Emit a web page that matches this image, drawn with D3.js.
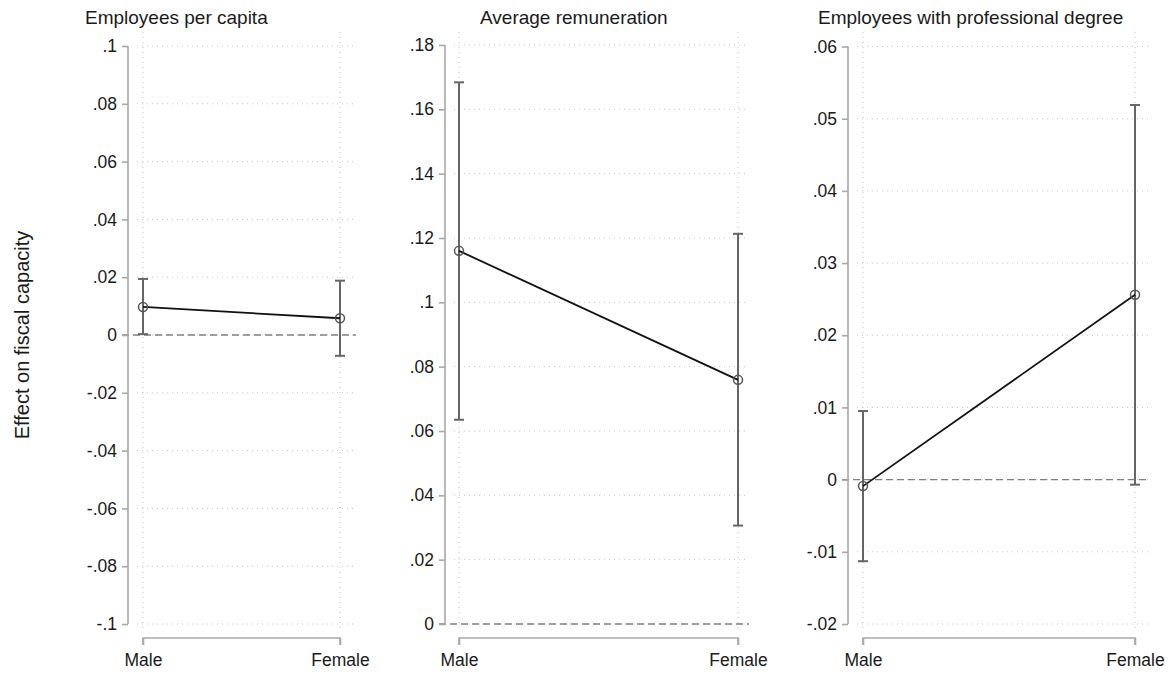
<!DOCTYPE html>
<html>
<head>
<meta charset="utf-8">
<script src="https://cdn.jsdelivr.net/npm/d3@7"></script>
<style>
  html, body { margin: 0; padding: 0; background: #fff; }
  svg { display: block; font-family: "Liberation Sans", Arial, sans-serif; }
</style>
</head>
<body>
<svg id="chart" width="1169" height="673"></svg>
<script>
// ---------- DATA ----------
const categories = ["Male", "Female"];
const panelTitles = ["Employees per capita", "Average remuneration", "Employees with professional degree"];
const yAxisTitle = "Effect on fiscal capacity";

const estEmployees = [0.0097, 0.0058];
const lowEmployees = [0.0003, -0.0072];
const highEmployees = [0.0194, 0.0188];

const estRemuneration = [0.1160, 0.0759];
const lowRemuneration = [0.0635, 0.0306];
const highRemuneration = [0.1684, 0.1213];

const estDegree = [-0.0009, 0.0256];
const lowDegree = [-0.0113, -0.0007];
const highDegree = [0.0095, 0.0519];

const ticksEmployees = [-0.1, -0.08, -0.06, -0.04, -0.02, 0, 0.02, 0.04, 0.06, 0.08, 0.1];
const ticksRemuneration = [0, 0.02, 0.04, 0.06, 0.08, 0.1, 0.12, 0.14, 0.16, 0.18];
const ticksDegree = [-0.02, -0.01, 0, 0.01, 0.02, 0.03, 0.04, 0.05, 0.06];

// ---------- LAYOUT ----------
const panels = [
  { title: panelTitles[0], est: estEmployees, low: lowEmployees, high: highEmployees, ticks: ticksEmployees,
    axisX: 128, xs: [143, 340], gridRight: 356, top: 46, bottom: 624, titleX: 85 },
  { title: panelTitles[1], est: estRemuneration, low: lowRemuneration, high: highRemuneration, ticks: ticksRemuneration,
    axisX: 445, xs: [459, 738], gridRight: 749, top: 45, bottom: 624, titleX: 480 },
  { title: panelTitles[2], est: estDegree, low: lowDegree, high: highDegree, ticks: ticksDegree,
    axisX: 848, xs: [863, 1135], gridRight: 1148, top: 46.5, bottom: 624, titleX: 818 }
];

const svg = d3.select("#chart");

const fmt = v => {
  if (Math.abs(v) < 1e-12) return "0";
  const s = String(+Math.abs(v).toFixed(4)).replace(/^0\./, ".");
  return (v < 0 ? "-" : "") + s;
};

panels.forEach(p => {
  const g = svg.append("g");
  const y = d3.scaleLinear()
    .domain([d3.min(p.ticks), d3.max(p.ticks)])
    .range([p.bottom, p.top]);
  const x = d3.scalePoint().domain(categories).range(p.xs);

  // horizontal dotted gridlines
  g.append("g").selectAll("line").data(p.ticks).join("line")
    .attr("x1", p.axisX + 9).attr("x2", p.gridRight)
    .attr("y1", d => y(d)).attr("y2", d => y(d))
    .attr("stroke", "#c8c8c8").attr("stroke-width", 1)
    .attr("stroke-dasharray", "1,4");

  // vertical dotted gridlines at categories
  g.append("g").selectAll("line").data(categories).join("line")
    .attr("x1", d => x(d)).attr("x2", d => x(d))
    .attr("y1", 32).attr("y2", 632)
    .attr("stroke", "#c8c8c8").attr("stroke-width", 1)
    .attr("stroke-dasharray", "1,4");

  // zero reference dashed line
  const [d0, d1] = y.domain();
  if (0 >= d0 && 0 <= d1) {
    g.append("line")
      .attr("x1", p.axisX - 6).attr("x2", p.gridRight)
      .attr("y1", y(0)).attr("y2", y(0))
      .attr("stroke", "#808080").attr("stroke-width", 1.3)
      .attr("stroke-dasharray", "7,4");
  }

  // y axis
  const yAxis = d3.axisLeft(y).tickValues(p.ticks).tickFormat(fmt).tickSize(6).tickPadding(5);
  const ya = g.append("g").attr("transform", `translate(${p.axisX},0)`).call(yAxis);
  ya.select(".domain").attr("stroke", "#a8a8a8").attr("stroke-width", 1.6)
    .attr("d", `M0,${p.bottom}V${p.top}`);
  ya.selectAll(".tick line").attr("stroke", "#a8a8a8").attr("stroke-width", 1.6);
  ya.selectAll(".tick text").attr("fill", "#1a1a1a").style("font-size", "17.5px")
    .style("font-family", "'Liberation Sans', Arial, sans-serif");

  // x axis
  const xAxis = d3.axisBottom(x).tickSize(7).tickPadding(9);
  const xa = g.append("g").attr("transform", `translate(0,638)`).call(xAxis);
  xa.select(".domain").attr("stroke", "#a8a8a8").attr("stroke-width", 1.6)
    .attr("d", `M${p.xs[0]},7V0H${p.xs[1]}V7`);
  xa.selectAll(".tick line").attr("stroke", "#a8a8a8").attr("stroke-width", 1.6);
  xa.selectAll(".tick text").attr("fill", "#1a1a1a").style("font-size", "17.5px")
    .style("font-family", "'Liberation Sans', Arial, sans-serif");

  // error bars
  const rows = categories.map((c, i) => ({ c, est: p.est[i], low: p.low[i], high: p.high[i] }));
  const eb = g.append("g").attr("stroke", "#666666").attr("stroke-width", 2);
  eb.selectAll("line.v").data(rows).join("line").attr("class", "v")
    .attr("x1", d => x(d.c)).attr("x2", d => x(d.c))
    .attr("y1", d => y(d.low)).attr("y2", d => y(d.high));
  eb.selectAll("line.capH").data(rows).join("line").attr("class", "capH")
    .attr("x1", d => x(d.c) - 5).attr("x2", d => x(d.c) + 5)
    .attr("y1", d => y(d.high)).attr("y2", d => y(d.high));
  eb.selectAll("line.capL").data(rows).join("line").attr("class", "capL")
    .attr("x1", d => x(d.c) - 5).attr("x2", d => x(d.c) + 5)
    .attr("y1", d => y(d.low)).attr("y2", d => y(d.low));

  // connecting line
  g.append("path").datum(rows)
    .attr("d", d3.line().x(d => x(d.c)).y(d => y(d.est)))
    .attr("fill", "none").attr("stroke", "#111").attr("stroke-width", 1.8);

  // markers
  g.selectAll("circle.m").data(rows).join("circle").attr("class", "m")
    .attr("cx", d => x(d.c)).attr("cy", d => y(d.est)).attr("r", 4.5)
    .attr("fill", "none").attr("stroke", "#555").attr("stroke-width", 1.5);

  // title
  g.append("text").attr("x", p.titleX).attr("y", 24)
    .attr("fill", "#1a1a1a").style("font-size", "19px").text(p.title);
});

// y-axis title
svg.append("text")
  .attr("transform", "translate(29,335) rotate(-90)")
  .attr("text-anchor", "middle")
  .attr("fill", "#1a1a1a").style("font-size", "20px")
  .text(yAxisTitle);
</script>
</body>
</html>
